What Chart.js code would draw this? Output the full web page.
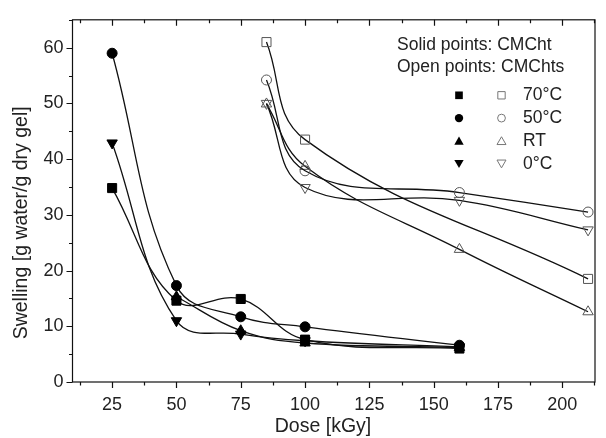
<!DOCTYPE html>
<html>
<head>
<meta charset="utf-8">
<script src="https://cdn.jsdelivr.net/npm/chart.js@4"></script>
<style>
  html, body { margin: 0; padding: 0; background: #fff; }
  #wrap { width: 606px; height: 438px; }
</style>
</head>
<body>
<div id="wrap"><canvas id="swellChart"></canvas></div>
<script>
// solid points: CMCht
const solidDoses = [25, 50, 75, 100, 160];
const solidRTDoses = [50, 75, 100, 160];
const solid70 = [34.8, 14.6, 14.9, 7.6, 6.0];
const solid50 = [59.0, 17.3, 11.7, 9.9, 6.6];
const solidRT = [15.3, 9.2, 7.0, 6.2];
const solid0 = [42.9, 11.0, 8.6, 7.4, 6.3];

// open points: CMChts
const openDoses = [85, 100, 160, 210];
const open70Doses = [85, 100, 210];
const open70 = [61.0, 43.5, 18.5];
const open50 = [54.2, 37.9, 34.0, 30.5];
const openRT = [49.9, 38.7, 23.8, 12.6];
const open0 = [50.0, 34.9, 32.6, 27.3];

const xTicks = [25, 50, 75, 100, 125, 150, 175, 200];
const yTicks = [0, 10, 20, 30, 40, 50, 60];
const xTitle = "Dose [kGy]";
const yTitle = "Swelling [g water/g dry gel]";
const legendLabels = ["70°C", "50°C", "RT", "0°C"];
const legendStyles = [["rect", 0], ["circle", 0], ["triangle", 0], ["triangle", 180]];

const FONT = '"Liberation Sans", Arial, sans-serif';

function radiusFor(style) {
  if (style === "rect") return 6.4;
  if (style === "triangle") return 6;
  return 5;
}

function series(xs, ys, style, rot, filled) {
  return {
    data: xs.map((x, i) => ({ x: x, y: ys[i] })),
    borderColor: "#111",
    borderWidth: 1.3,
    tension: 0.4,
    fill: false,
    pointStyle: style,
    pointRotation: rot,
    pointRadius: radiusFor(style),
    pointBackgroundColor: filled ? "#000" : "rgba(0,0,0,0)",
    pointBorderColor: filled ? "#000" : "#555",
    pointBorderWidth: 1,
  };
}

// small marker drawer for the in-plot legend
function marker(ctx, style, rot, x, y, r, filled) {
  ctx.save();
  ctx.translate(x, y);
  ctx.rotate((rot * Math.PI) / 180);
  ctx.beginPath();
  if (style === "rect") {
    const s = r * Math.SQRT1_2;
    ctx.rect(-s, -s, 2 * s, 2 * s);
  } else if (style === "circle") {
    ctx.arc(0, 0, r, 0, Math.PI * 2);
  } else {
    for (let k = 0; k < 3; k++) {
      const a = -Math.PI / 2 + (k * 2 * Math.PI) / 3;
      const px = Math.cos(a) * r;
      const py = Math.sin(a) * r + r * 0.2;
      if (k === 0) ctx.moveTo(px, py);
      else ctx.lineTo(px, py);
    }
    ctx.closePath();
  }
  if (filled) {
    ctx.fillStyle = "#000";
    ctx.fill();
  } else {
    ctx.strokeStyle = "#777";
    ctx.lineWidth = 1;
    ctx.stroke();
  }
  ctx.restore();
}

const framePlugin = {
  id: "frame",
  afterDraw(chart) {
    const ctx = chart.ctx;
    const a = chart.chartArea;
    const xs = chart.scales.x;
    const ys = chart.scales.y;
    ctx.save();
    ctx.strokeStyle = "#111";
    ctx.lineWidth = 1.2;
    ctx.strokeRect(a.left, a.top, a.right - a.left, a.bottom - a.top);

    ctx.beginPath();
    for (let v = 12.5; v <= xs.max; v += 12.5) {
      const px = Math.round(xs.getPixelForValue(v)) + 0.5;
      const len = v % 25 === 0 ? 6 : 3.5;
      ctx.moveTo(px, a.bottom);
      ctx.lineTo(px, a.bottom + len);
      ctx.moveTo(px, a.top);
      ctx.lineTo(px, a.top + len);
    }
    for (let v = 0; v <= ys.max; v += 5) {
      const py = Math.round(ys.getPixelForValue(v)) + 0.5;
      const len = v % 10 === 0 ? 6 : 3.5;
      ctx.moveTo(a.left, py);
      ctx.lineTo(a.left - len, py);
    }
    ctx.stroke();

    // axis titles (sit a little off-centre in the original)
    ctx.fillStyle = "#222";
    ctx.font = "19.5px " + FONT;
    ctx.textAlign = "center";
    ctx.textBaseline = "middle";
    ctx.fillText(xTitle, a.left + 250.5, a.bottom + 45);
    ctx.save();
    ctx.translate(21.5, a.top + 203);
    ctx.rotate(-Math.PI / 2);
    ctx.fillText(yTitle, 0, 0);
    ctx.restore();

    // legend inside the plot
    ctx.font = "17.5px " + FONT;
    ctx.textAlign = "left";
    ctx.fillText("Solid points: CMCht", a.right - 198, a.top + 25);
    ctx.fillText("Open points: CMChts", a.right - 198, a.top + 47);
    legendLabels.forEach((lab, i) => {
      const y = a.top + 75.5 + i * 22.8;
      const st = legendStyles[i];
      marker(ctx, st[0], st[1], a.right - 136, y, st[0] === "circle" ? 4.2 : 5.4, true);
      marker(ctx, st[0], st[1], a.right - 93.5, y, st[0] === "circle" ? 3.9 : 5.2, false);
      ctx.fillStyle = "#222";
      ctx.fillText(lab, a.right - 72, y);
    });
    ctx.restore();
  },
};

new Chart(document.getElementById("swellChart"), {
  type: "line",
  data: {
    datasets: [
      series(solidDoses, solid70, "rect", 0, true),
      series(solidDoses, solid50, "circle", 0, true),
      series(solidRTDoses, solidRT, "triangle", 0, true),
      series(solidDoses, solid0, "triangle", 180, true),
      series(open70Doses, open70, "rect", 0, false),
      series(openDoses, open50, "circle", 0, false),
      series(openDoses, openRT, "triangle", 0, false),
      series(openDoses, open0, "triangle", 180, false),
    ],
  },
  options: {
    responsive: true,
    maintainAspectRatio: false,
    animation: false,
    layout: { padding: { top: 13, right: 11, left: 0, bottom: 0 } },
    plugins: { legend: { display: false }, tooltip: { enabled: false } },
    scales: {
      x: {
        type: "linear",
        min: 9.6,
        max: 212.7,
        afterBuildTicks: (s) => { s.ticks = xTicks.map((v) => ({ value: v })); },
        afterFit: (s) => { s.height = 56; },
        grid: { display: false, drawTicks: false },
        border: { display: false },
        ticks: { padding: 12, color: "#222", font: { family: FONT, size: 18 } },
        title: { display: false },
      },
      y: {
        min: 0,
        max: 65,
        afterBuildTicks: (s) => { s.ticks = yTicks.map((v) => ({ value: v })); },
        afterFit: (s) => { s.width = 72.5; },
        grid: { display: false, drawTicks: false },
        border: { display: false },
        ticks: { padding: 9, color: "#222", font: { family: FONT, size: 18 } },
        title: { display: false },
      },
    },
  },
  plugins: [framePlugin],
});
</script>
</body>
</html>
